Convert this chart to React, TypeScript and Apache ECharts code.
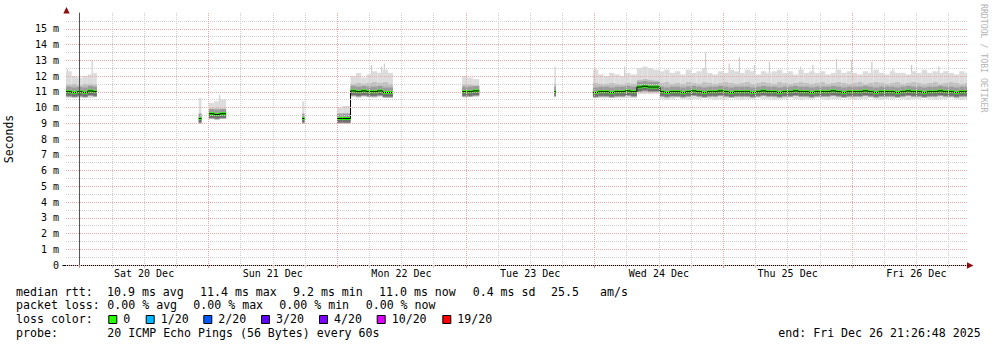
import React, { useEffect, useRef } from 'react';
import * as echarts from 'echarts';

// ---- axis definitions (hours relative to Sat 20 Dec 00:00) ----
const xMinHours = -2.5533; // Fri 19 Dec 21:26:48
const xMaxHours = 165.4467; // Fri 26 Dec 21:26:48
const minorGridHours = [6, 12, 18, 30, 36, 42, 54, 60, 66, 78, 84, 90, 102, 108, 114, 126, 132, 138, 150, 156, 162];
const majorGridHours = [0, 24, 48, 72, 96, 120, 144];
const dayLabelHours = [12, 36, 60, 84, 108, 132, 156];
const dayLabels = ['Sat 20 Dec', 'Sun 21 Dec', 'Mon 22 Dec', 'Tue 23 Dec', 'Wed 24 Dec', 'Thu 25 Dec', 'Fri 26 Dec'];

// ---- data buckets: each bucket spans bucketHours[i] .. bucketHours[i+1]; null = no data ----
const bucketHours = [
  -2.5533, -1.5, -0.5, 0.5, 1.5, 2.5, 3.2,
  22.2, 22.7,
  24.1, 25.1, 26.1, 27.3,
  41.5, 41.9,
  48.0, 49.0,
  50.5, 51.5, 52.5, 53.5, 54.5, 55.5, 56.5, 57.5, 58.4,
  71.3, 72.3, 73.3, 74.5,
  88.5, 88.8,
  95.7, 96.7, 97.7, 98.7, 99.7, 100.7, 101.7, 102.7,
  103.9, 104.9, 105.9, 106.9,
  108.2, 109, 110, 111, 112, 113, 114, 115, 116, 117, 118, 119, 120, 121, 122, 123, 124, 125, 126, 127,
  128, 129, 130, 131, 132, 133, 134, 135, 136, 137, 138, 139, 140, 141, 142, 143, 144, 145, 146, 147,
  148, 149, 150, 151, 152, 153, 154, 155, 156, 157, 158, 159, 160, 161, 162, 163, 164, 165,
  165.4467,
];
const medianMs = [
  11.0, 10.95, 11.0, 10.95, 11.05, 11.0, null,
  9.3, null,
  9.6, 9.55, 9.6, null,
  9.3, null,
  9.3, 9.3,
  11.05, 11.0, 11.05, 11.0, 11.0, 11.05, 10.95, 10.95, null,
  11.0, 11.0, 11.05, null,
  11.0, null,
  10.95, 11.0, 11.0, 10.95, 11.0, 11.0, 11.05, 11.0,
  11.3, 11.35, 11.3, 11.3,
  11.0, 10.95, 11.0, 11.0, 10.95, 11.0, 11.05, 11.0, 10.95, 11.0,
  11.0, 11.05, 11.0, 10.95, 11.0, 11.0, 11.0, 10.95, 11.0, 11.05,
  11.0, 11.0, 10.95, 11.0, 11.0, 11.05, 11.0, 11.0, 10.95, 11.0,
  11.0, 11.0, 11.05, 11.0, 10.95, 11.0, 11.0, 11.0, 11.05, 11.0,
  10.95, 11.0, 11.0, 11.0, 10.95, 11.0, 11.05, 11.0, 11.0, 10.95,
  11.0, 11.0, 11.05, 11.0, 11.0, 10.95, 11.0, 11.0,
  null,
];
const lowMs = [
  10.6, 10.65, 10.6, 10.65, 10.6, 10.65, null,
  9.0, null,
  9.3, 9.3, 9.35, null,
  9.0, null,
  9.05, 9.05,
  10.65, 10.6, 10.65, 10.65, 10.6, 10.65, 10.6, 10.6, null,
  10.65, 10.65, 10.65, null,
  10.65, null,
  10.6, 10.6, 10.6, 10.6, 10.6, 10.6, 10.6, 10.6,
  10.85, 10.85, 10.85, 10.85,
  10.55, 10.5, 10.55, 10.6, 10.55, 10.5, 10.55, 10.55, 10.6, 10.55,
  10.5, 10.55, 10.55, 10.6, 10.55, 10.5, 10.55, 10.55, 10.6, 10.55,
  10.55, 10.5, 10.55, 10.55, 10.6, 10.55, 10.5, 10.55, 10.55, 10.6,
  10.55, 10.5, 10.55, 10.55, 10.6, 10.55, 10.5, 10.55, 10.55, 10.6,
  10.55, 10.5, 10.55, 10.55, 10.6, 10.55, 10.5, 10.55, 10.55, 10.6,
  10.55, 10.5, 10.55, 10.55, 10.6, 10.55, 10.5, 10.55,
  null,
];
const q1Ms = [
  10.8, 10.8, 10.8, 10.8, 10.8, 10.8, null,
  9.15, null,
  9.45, 9.45, 9.45, null,
  9.15, null,
  9.15, 9.15,
  10.8, 10.8, 10.8, 10.8, 10.8, 10.8, 10.75, 10.75, null,
  10.8, 10.8, 10.8, null,
  10.8, null,
  10.78, 10.78, 10.78, 10.78, 10.78, 10.78, 10.78, 10.78,
  11.0, 11.0, 11.0, 11.0,
  10.75, 10.75, 10.75, 10.75, 10.75, 10.75, 10.75, 10.75, 10.75, 10.75,
  10.75, 10.75, 10.75, 10.75, 10.75, 10.75, 10.75, 10.75, 10.75, 10.75,
  10.75, 10.75, 10.75, 10.75, 10.75, 10.75, 10.75, 10.75, 10.75, 10.75,
  10.75, 10.75, 10.75, 10.75, 10.75, 10.75, 10.75, 10.75, 10.75, 10.75,
  10.75, 10.75, 10.75, 10.75, 10.75, 10.75, 10.75, 10.75, 10.75, 10.75,
  10.75, 10.75, 10.75, 10.75, 10.75, 10.75, 10.75, 10.75,
  null,
];
const q3Ms = [
  11.45, 11.5, 11.4, 11.5, 11.5, 11.45, null,
  9.6, null,
  9.9, 9.95, 9.9, null,
  9.55, null,
  9.6, 9.6,
  11.5, 11.55, 11.5, 11.55, 11.6, 11.55, 11.6, 11.5, null,
  11.45, 11.45, 11.4, null,
  11.5, null,
  11.55, 11.5, 11.5, 11.55, 11.5, 11.45, 11.55, 11.5,
  11.75, 11.8, 11.75, 11.7,
  11.55, 11.6, 11.5, 11.55, 11.5, 11.6, 11.55, 11.5, 11.6, 11.55,
  11.5, 11.55, 11.6, 11.55, 11.5, 11.55, 11.6, 11.5, 11.55, 11.6,
  11.55, 11.5, 11.6, 11.55, 11.5, 11.55, 11.6, 11.55, 11.5, 11.55,
  11.6, 11.5, 11.55, 11.6, 11.55, 11.5, 11.55, 11.6, 11.5, 11.55,
  11.6, 11.55, 11.5, 11.55, 11.6, 11.5, 11.55, 11.6, 11.55, 11.5,
  11.55, 11.6, 11.5, 11.55, 11.6, 11.55, 11.5, 11.55,
  null,
];
const highMs = [
  12.3, 12.0, 11.9, 12.0, 12.1, 12.2, null,
  10.6, null,
  10.3, 10.4, 10.5, null,
  10.4, null,
  10.0, 10.1,
  12.0, 12.2, 11.9, 12.1, 12.3, 12.2, 12.4, 12.2, null,
  12.0, 11.9, 11.8, null,
  12.6, null,
  12.4, 12.1, 12.0, 12.2, 12.1, 12.0, 12.2, 12.1,
  12.5, 12.6, 12.5, 12.4,
  12.3, 12.4, 12.2, 12.3, 12.1, 12.4, 12.2, 12.3, 12.5, 12.2,
  12.1, 12.3, 12.2, 12.4, 12.3, 12.2, 12.4, 12.3, 12.1, 12.3,
  12.2, 12.3, 12.4, 12.2, 12.3, 12.1, 12.4, 12.2, 12.3, 12.2,
  12.3, 12.1, 12.2, 12.4, 12.2, 12.3, 12.2, 12.1, 12.3, 12.2,
  12.4, 12.2, 12.1, 12.3, 12.2, 12.2, 12.1, 12.3, 12.2, 12.4,
  12.2, 12.3, 12.2, 12.3, 12.2, 12.1, 12.3, 12.2,
  null,
];

// individual tall ping spikes
const spikeHours = [-2.4, 2.2, 26.0, 54.3, 56.2, 56.7, 96.0, 101.5, 116.6, 121.0, 122.9, 125.7, 128.5, 134.3, 136.6, 141.0, 143.8, 147.6, 151.5, 155.0, 160.1];
const spikeTopMs = [12.45, 13.0, 10.8, 12.7, 12.6, 12.8, 12.5, 12.6, 13.5, 12.8, 13.2, 12.7, 12.9, 12.6, 12.7, 13.1, 13.0, 12.9, 12.5, 12.7, 12.6];
const spikeBaseMs = [11.0, 11.0, 9.6, 11.0, 11.0, 11.0, 11.0, 11.0, 11.0, 11.0, 11.0, 11.0, 11.0, 11.0, 11.0, 11.0, 11.0, 11.0, 11.0, 11.0, 11.0];

// legend
const lossLabels = ['0', '1/20', '2/20', '3/20', '4/20', '10/20', '19/20'];
const lossColors = ['#26ff00', '#00b8ff', '#0059ff', '#5e00ff', '#7e00ff', '#dd00ff', '#ff0000'];
const rttLine = [
  ['median rtt:', 16], ['10.9 ms avg', 107], ['11.4 ms max', 200], ['9.2 ms min', 293],
  ['11.0 ms now', 379], ['0.4 ms sd', 472.7], ['25.5', 551], ['am/s', 600],
];
const lossLine = [
  ['packet loss:', 16], ['0.00 % avg', 107.3], ['0.00 % max', 193.3], ['0.00 % min', 279.3], ['0.00 % now', 365.7],
];
const lossBoxX = [108.3, 145.7, 203.3, 261, 319, 376.7, 442.3];
const probeText = '20 ICMP Echo Pings (56 Bytes) every 60s';
const endText = 'end: Fri Dec 26 21:26:48 2025';

const MONO = '"DejaVu Sans Mono", monospace';
const MAJOR = '#eaa8a8';
const MINOR = '#cfcfcf';

function buildBands(loArr: (number | null)[], hiArr: (number | null)[]) {
  const out: number[][] = [];
  for (let i = 0; i < bucketHours.length - 1; i++) {
    const m = medianMs[i];
    if (m == null) continue;
    out.push([bucketHours[i], bucketHours[i + 1], loArr[i] as number, hiArr[i] as number]);
  }
  return out;
}

function buildMedianRects() {
  const out: number[][] = [];
  for (let i = 0; i < bucketHours.length - 1; i++) {
    const m = medianMs[i];
    if (m == null) continue;
    out.push([bucketHours[i], bucketHours[i + 1], m]);
  }
  return out;
}

function buildMedianLine() {
  const out: (number | null)[][] = [];
  for (let i = 0; i < bucketHours.length - 1; i++) {
    const m = medianMs[i];
    if (m == null) {
      out.push([bucketHours[i], null]);
      continue;
    }
    out.push([bucketHours[i], m]);
    out.push([bucketHours[i + 1], m]);
  }
  return out;
}

const bandRenderer = (color: string) => (_p: any, api: any) => {
  const a = api.coord([api.value(0), api.value(3)]);
  const b = api.coord([api.value(1), api.value(2)]);
  return {
    type: 'rect',
    shape: { x: a[0], y: a[1], width: Math.max(1, b[0] - a[0]), height: b[1] - a[1] },
    style: { fill: color },
  };
};

const medianRenderer = (color: string, up: number, down: number) => (_p: any, api: any) => {
  const a = api.coord([api.value(0), api.value(2)]);
  const b = api.coord([api.value(1), api.value(2)]);
  return {
    type: 'rect',
    shape: { x: a[0], y: a[1] - up, width: Math.max(1, b[0] - a[0]), height: up + down },
    style: { fill: color },
  };
};

const spikeRenderer = (_p: any, api: any) => {
  const a = api.coord([api.value(0), api.value(1)]);
  const b = api.coord([api.value(0), api.value(2)]);
  return {
    type: 'rect',
    shape: { x: a[0], y: a[1], width: 1.2, height: b[1] - a[1] },
    style: { fill: '#cdcdcd' },
  };
};

export default function App() {
  const ref = useRef<HTMLDivElement>(null);

  useEffect(() => {
    if (!ref.current) return;
    const chart = echarts.init(ref.current, undefined, { renderer: 'svg' });

    const spikes = spikeHours.map((h, i) => [h, spikeTopMs[i], spikeBaseMs[i]]);
    const legendTexts: any[] = [];
    const txt = (text: string, x: number, y: number, extra: any = {}) => ({
      type: 'text',
      x,
      y,
      silent: true,
      style: { text, font: `11.6px ${MONO}`, fill: '#000', align: 'left', verticalAlign: 'middle', ...extra },
    });
    rttLine.forEach(([t, x]) => legendTexts.push(txt(t as string, x as number, 291.7)));
    lossLine.forEach(([t, x]) => legendTexts.push(txt(t as string, x as number, 305.2)));
    legendTexts.push(txt('loss color:', 16, 319.3));
    lossLabels.forEach((l, i) => {
      legendTexts.push({
        type: 'rect',
        silent: true,
        shape: { x: lossBoxX[i] + 0.5, y: 315.5, width: 8, height: 8 },
        style: { fill: lossColors[i], stroke: '#000', lineWidth: 1 },
      });
      legendTexts.push(txt(l, lossBoxX[i] + 15, 319.3));
    });
    legendTexts.push(txt('probe:', 16, 332.8));
    legendTexts.push(txt(probeText, 107.3, 332.8));
    legendTexts.push(txt(endText, 778.3, 332.8));

    const hidden = { show: false };

    chart.setOption({
      animation: false,
      backgroundColor: '#ffffff',
      grid: { left: 66, right: 30, top: 13, bottom: 82, containLabel: false, outerBoundsMode: 'none' },
      xAxis: [
        {
          type: 'value',
          min: xMinHours,
          max: xMaxHours,
          position: 'bottom',
          z: 10,
          axisLine: { show: true, lineStyle: { color: '#000', width: 1 } },
          axisTick: { show: true, customValues: minorGridHours, length: 3, lineStyle: { color: '#c8c8c8' } },
          axisLabel: {
            customValues: dayLabelHours,
            formatter: (v: number) => dayLabels[Math.round((v - 12) / 24)] || '',
            fontFamily: MONO,
            fontSize: 10,
            color: '#000',
            margin: 3,
          },
          splitLine: { show: true, lineStyle: { type: 'dotted', width: 1, color: MINOR } },
        },
        {
          type: 'value',
          min: xMinHours,
          max: xMaxHours,
          position: 'bottom',
          z: 11,
          axisLine: hidden,
          axisTick: { show: true, customValues: majorGridHours, length: 3, lineStyle: { color: '#e08a8a' } },
          axisLabel: hidden,
          splitLine: { show: true, lineStyle: { type: 'dotted', width: 1, color: MAJOR } },
        },
      ],
      yAxis: [
        {
          type: 'value',
          min: 0,
          max: 16,
          interval: 0.5,
          position: 'left',
          z: 10,
          axisLine: hidden,
          axisTick: hidden,
          axisLabel: hidden,
          splitLine: { show: true, showMaxLine: false, lineStyle: { type: 'dotted', width: 1, color: MINOR } },
        },
        {
          type: 'value',
          min: 0,
          max: 16,
          interval: 1,
          position: 'left',
          z: 11,
          name: 'Seconds',
          nameLocation: 'middle',
          nameGap: 51,
          nameTextStyle: { fontFamily: MONO, fontSize: 11.5, color: '#000' },
          axisLine: { show: true, lineStyle: { color: '#555', width: 1 } },
          axisTick: hidden,
          axisLabel: {
            formatter: (v: number) => {
              const r = Math.round(v * 100) / 100;
              if (r >= 16) return '';
              return r === 0 ? '0' : `${r} m`;
            },
            fontFamily: MONO,
            fontSize: 10,
            color: '#000',
            margin: 7,
          },
          splitLine: { show: true, showMaxLine: false, lineStyle: { type: 'dotted', width: 1, color: MAJOR } },
        },
      ],
      series: [
        { type: 'custom', name: 'spikes', renderItem: spikeRenderer, data: spikes, encode: { x: 0, y: [1, 2] }, silent: true },
        { type: 'custom', name: 'smoke outer', renderItem: bandRenderer('#dcdcdc'), data: buildBands(lowMs, highMs), encode: { x: [0, 1], y: [2, 3] }, silent: true },
        { type: 'custom', name: 'smoke inner', renderItem: bandRenderer('#bdbdbd'), data: buildBands(q1Ms, q3Ms), encode: { x: [0, 1], y: [2, 3] }, silent: true },
        { type: 'custom', name: 'smoke core', renderItem: medianRenderer('#9c9c9c', 5, 5), data: buildMedianRects(), encode: { x: [0, 1], y: 2 }, silent: true },
        { type: 'custom', name: 'smoke dark', renderItem: medianRenderer('#707070', -1, 4), data: buildMedianRects(), encode: { x: [0, 1], y: 2 }, silent: true },
        {
          type: 'line',
          name: 'median line',
          data: buildMedianLine(),
          showSymbol: false,
          symbol: 'none',
          connectNulls: false,
          lineStyle: { color: '#000', width: 1 },
          silent: true,
        },
        { type: 'custom', name: 'median rtt', renderItem: medianRenderer('#26ff00', 1.5, 1.5), data: buildMedianRects(), encode: { x: [0, 1], y: 2 }, silent: true },
      ],
      graphic: [
        { type: 'polygon', silent: true, shape: { points: [[66.5, 7], [63.3, 13.5], [69.7, 13.5]] }, style: { fill: '#8b1010' } },
        { type: 'polygon', silent: true, shape: { points: [[973.5, 265.5], [967, 262.3], [967, 268.7]] }, style: { fill: '#8b1010' } },
        { type: 'line', silent: true, shape: { x1: 62.5, y1: 265.5, x2: 66.5, y2: 265.5 }, style: { stroke: '#000', lineWidth: 1 } },
        {
          type: 'text',
          silent: true,
          x: 984,
          y: 4,
          rotation: -Math.PI / 2,
          style: { text: 'RRDTOOL / TOBI OETIKER', font: `8.2px ${MONO}`, fill: '#b4b4b4', align: 'left', verticalAlign: 'middle' },
        },
        ...legendTexts,
      ],
    });

    return () => chart.dispose();
  }, []);

  return (
    <div
      ref={ref}
      style={{ position: 'fixed', left: 0, top: 0, width: 997, height: 347, background: '#fff' }}
    />
  );
}
